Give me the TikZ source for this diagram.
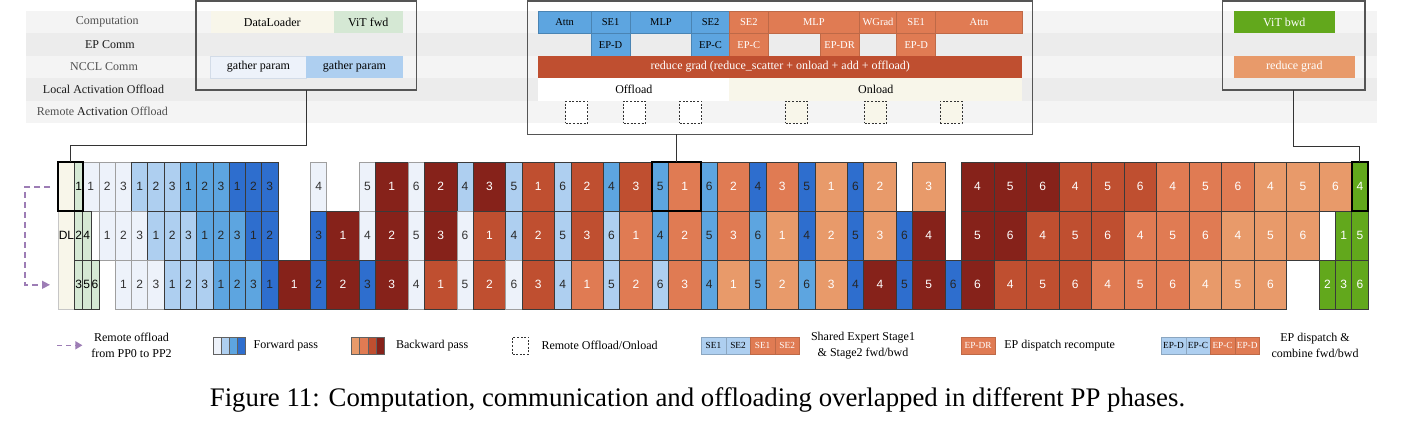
\documentclass[tikz,border=0pt]{standalone}
\usepackage{fontspec}
\setmainfont{Liberation Serif}
\setsansfont{Liberation Sans}
\usetikzlibrary{arrows.meta,calc}
\definecolor{fA}{HTML}{EDF2FA}
\definecolor{fB}{HTML}{AECFF0}
\definecolor{fC}{HTML}{5DA5E0}
\definecolor{fD}{HTML}{2E6ECE}
\definecolor{bA}{HTML}{86221A}
\definecolor{bB}{HTML}{BF4F30}
\definecolor{bC}{HTML}{E07B53}
\definecolor{bD}{HTML}{E89A6A}
\definecolor{gL}{HTML}{D5E8D4}
\definecolor{gD}{HTML}{62A81C}
\definecolor{beige}{HTML}{F8F6EA}
\definecolor{stripeA}{HTML}{F4F4F4}
\definecolor{stripeB}{HTML}{ECECEC}
\definecolor{purp}{HTML}{9D7DB5}
\definecolor{panelc}{HTML}{555555}
\definecolor{celld}{HTML}{3A3A3A}
\definecolor{gpb}{HTML}{D3DCE8}
\definecolor{lblg}{HTML}{505050}
\definecolor{lbld}{HTML}{1A1A1A}
\newcommand\tb[7]{\node[tbox,#6,minimum width={#4-#2},minimum height={#5-#3}] (#1) at (#2,#3) {#7};}
\begin{document}
\begin{tikzpicture}[x=1pt,y=-1pt,
  cellbox/.style={draw=celld,line width=0.6pt,inner sep=0,outer sep=0,minimum height=49,anchor=north west,font=\sffamily\fontsize{12}{12}\selectfont},
  f1/.style={fill=fA,draw=gray!75,text=black!80},
  f2/.style={fill=fB,text=black!85},
  f3/.style={fill=fC,text=black!85},
  f4/.style={fill=fD,text=black!85},
  b1/.style={fill=bA,text=white},
  b2/.style={fill=bB,text=white},
  b3/.style={fill=bC,text=white},
  b4/.style={fill=bD,text=white},
  gl/.style={fill=gL,text=black},
  gd/.style={fill=gD,text=white},
  thickbox/.style={draw=black,line width=2pt,anchor=north west,inner sep=0,outer sep=0,minimum height=49},
  tbox/.style={anchor=north west,inner sep=0,outer sep=0,font=\fontsize{12}{12}\selectfont},
  mblue/.style={fill=fC,draw=fC!80!black,line width=0.5pt,text=black,font=\fontsize{10.5}{10.5}\selectfont},
  morg/.style={fill=bC,draw=bC!85!black,line width=0.5pt,text=white,font=\fontsize{10.5}{10.5}\selectfont},
  panel/.style={draw=panelc,line width=1.3pt,anchor=north west,inner sep=0,outer sep=0},
  dsq/.style={draw=black!80,dash pattern=on 2pt off 1.6pt,line width=0.7pt,minimum size=22,inner sep=0},
  rowlbl/.style={font=\fontsize{12}{12}\selectfont},
  conn/.style={draw=black!80,line width=0.9pt},
  lsw/.style={anchor=north west,minimum width=8.15,minimum height=17.5,inner sep=0,draw=celld!80,line width=0.4pt},
  lse/.style={anchor=north west,minimum width=24.6,minimum height=17.5,inner sep=0,line width=0.4pt,font=\fontsize{9.3}{9.3}\selectfont},
  ltxt/.style={font=\fontsize{12}{15.5}\selectfont,inner sep=0}
]
\useasboundingbox (0,0) rectangle (1425,440);
% stripes
\fill[stripeA] (26,11) rectangle (1376.7,33.4);
\fill[stripeB] (26,33.4) rectangle (1376.7,55.8);
\fill[stripeA] (26,55.8) rectangle (1376.7,78.2);
\fill[stripeB] (26,78.2) rectangle (1376.7,100.6);
\fill[stripeA] (26,100.6) rectangle (1376.7,123);
% row labels
\node[rowlbl,text=lblg] (l1) at (107.3,22.2) {Computation};
\node[rowlbl,text=lbld] (l2) at (109.9,44.6) {EP Comm};
\node[rowlbl,text=lblg] (l3) at (104,67) {NCCL Comm};
\node[rowlbl,text=lbld] (l4) at (103.5,89.4) {Local Activation Offload};
\node[rowlbl,text=lbld] (l5) at (102.4,111.8) {{\color{lblg}Remote} Activation {\color{lblg}Offload}};
% left panel
\tb{dlA}{210.6}{11}{334}{33.4}{fill=beige}{DataLoader}
\tb{vitf}{334}{11}{402.6}{33.4}{fill=gL}{ViT fwd}
\tb{gpA}{210.6}{55.8}{306.3}{78.2}{fill=fA,draw=gpb,line width=0.6pt}{gather param}
\tb{gpB}{306.3}{55.8}{402.6}{78.2}{fill=fB}{gather param}
% middle panel
\tb{mA1}{538.3}{11}{591}{33.4}{mblue}{Attn}
\tb{mA2}{591}{11}{630.3}{33.4}{mblue}{SE1}
\tb{mA3}{630.3}{11}{691.7}{33.4}{mblue}{MLP}
\tb{mA4}{691.7}{11}{729.3}{33.4}{mblue}{SE2}
\tb{mA5}{729.3}{11}{768.3}{33.4}{morg}{SE2}
\tb{mA6}{768.3}{11}{859.3}{33.4}{morg}{MLP}
\tb{mA7}{859.3}{11}{896.7}{33.4}{morg}{WGrad}
\tb{mA8}{896.7}{11}{935.7}{33.4}{morg}{SE1}
\tb{mA9}{935.7}{11}{1022.3}{33.4}{morg}{Attn}
\tb{mB1}{591}{33.4}{630.3}{55.8}{mblue}{EP-D}
\tb{mB2}{691.7}{33.4}{729.3}{55.8}{mblue}{EP-C}
\tb{mB3}{729.3}{33.4}{768.3}{55.8}{morg}{EP-C}
\tb{mB4}{820}{33.4}{859.3}{55.8}{morg}{EP-DR}
\tb{mB5}{896.7}{33.4}{935.7}{55.8}{morg}{EP-D}
\tb{mC}{538.3}{55.8}{1022.3}{78.2}{fill=bB,text=white}{reduce grad (reduce\_scatter + onload + add + offload)}
\tb{mD1}{538.3}{78.2}{729.3}{100.6}{fill=white}{Offload}
\tb{mD2}{729.3}{78.2}{1022.3}{100.6}{fill=beige}{Onload}
\node[dsq,fill=white] (ds1) at (576.7,112.3) {};
\node[dsq,fill=white] (ds2) at (634.5,112.3) {};
\node[dsq,fill=white] (ds3) at (690.7,112.3) {};
\node[dsq,fill=beige] (ds4) at (796.5,112.3) {};
\node[dsq,fill=beige] (ds5) at (875.5,112.3) {};
\node[dsq,fill=beige] (ds6) at (951,112.3) {};
% right panel
\tb{vitb}{1234}{11}{1334.7}{33.4}{fill=gD,text=white}{ViT bwd}
\tb{rgr}{1234}{55.8}{1354.7}{78.2}{fill=bD,text=white}{reduce grad}
% panels
\node[panel,minimum width=220.8,minimum height=89] (lpanel) at (196,1) {};
\node[panel,minimum width=505,minimum height=133.3] (mpanel) at (527.3,1) {};
\node[panel,minimum width=142.7,minimum height=89] (rpanel) at (1222.3,1) {};
% pipeline
\node[cellbox,fill=beige,draw=gray!45,minimum width=16.27,minimum height=147,text=black] (dl) at (58.3,162.3) {DL};
\foreach \xc/\xw/\xs/\xl [count=\i] in {-0.5/0.5/gl/1, 0/1/f1/1, 1/1/f1/2, 2/1/f1/3, 3/1/f2/1, 4/1/f2/2, 5/1/f2/3, 6/1/f3/1, 7/1/f3/2, 8/1/f3/3, 9/1/f4/1, 10/1/f4/2, 11/1/f4/3, 14/1/f1/4, 17/1/f1/5, 18/2/b1/1, 20/1/f1/6, 21/2/b1/2, 23/1/f2/4, 24/2/b1/3, 26/1/f2/5, 27/2/b2/1, 29/1/f2/6, 30/2/b2/2, 32/1/f3/4, 33/2/b2/3, 35/1/f3/5, 36/2/b3/1, 38/1/f3/6, 39/2/b3/2, 41/1/f4/4, 42/2/b3/3, 44/1/f4/5, 45/2/b4/1, 47/1/f4/6, 48/2/b4/2, 51/2/b4/3, 54/2/b1/4, 56/2/b1/5, 58/2/b1/6, 60/2/b2/4, 62/2/b2/5, 64/2/b2/6, 66/2/b3/4, 68/2/b3/5, 70/2/b3/6, 72/2/b4/4, 74/2/b4/5, 76/2/b4/6, 78/1/gd/4}
  {\node[cellbox,\xs,minimum width={\xw*16.27}] (ra\i) at ({82.7+16.27*(\xc)},162.3) {\xl};}
\foreach \xc/\xw/\xs/\xl [count=\i] in {-0.5/0.5/gl/2, 0/0.5/gl/4, 1/1/f1/1, 2/1/f1/2, 3/1/f1/3, 4/1/f2/1, 5/1/f2/2, 6/1/f2/3, 7/1/f3/1, 8/1/f3/2, 9/1/f3/3, 10/1/f4/1, 11/1/f4/2, 14/1/f4/3, 15/2/b1/1, 17/1/f1/4, 18/2/b1/2, 20/1/f1/5, 21/2/b1/3, 23/1/f1/6, 24/2/b2/1, 26/1/f2/4, 27/2/b2/2, 29/1/f2/5, 30/2/b2/3, 32/1/f2/6, 33/2/b3/1, 35/1/f3/4, 36/2/b3/2, 38/1/f3/5, 39/2/b3/3, 41/1/f3/6, 42/2/b4/1, 44/1/f4/4, 45/2/b4/2, 47/1/f4/5, 48/2/b4/3, 50/1/f4/6, 51/2/b1/4, 54/2/b1/5, 56/2/b1/6, 58/2/b2/4, 60/2/b2/5, 62/2/b2/6, 64/2/b3/4, 66/2/b3/5, 68/2/b3/6, 70/2/b4/4, 72/2/b4/5, 74/2/b4/6, 77/1/gd/1, 78/1/gd/5}
  {\node[cellbox,\xs,minimum width={\xw*16.27}] (rb\i) at ({82.7+16.27*(\xc)},211.3) {\xl};}
\foreach \xc/\xw/\xs/\xl [count=\i] in {-0.5/0.5/gl/3, 0/0.5/gl/5, 0.5/0.5/gl/6, 2/1/f1/1, 3/1/f1/2, 4/1/f1/3, 5/1/f2/1, 6/1/f2/2, 7/1/f2/3, 8/1/f3/1, 9/1/f3/2, 10/1/f3/3, 11/1/f4/1, 12/2/b1/1, 14/1/f4/2, 15/2/b1/2, 17/1/f4/3, 18/2/b1/3, 20/1/f1/4, 21/2/b2/1, 23/1/f1/5, 24/2/b2/2, 26/1/f1/6, 27/2/b2/3, 29/1/f2/4, 30/2/b3/1, 32/1/f2/5, 33/2/b3/2, 35/1/f2/6, 36/2/b3/3, 38/1/f3/4, 39/2/b4/1, 41/1/f3/5, 42/2/b4/2, 44/1/f3/6, 45/2/b4/3, 47/1/f4/4, 48/2/b1/4, 50/1/f4/5, 51/2/b1/5, 53/1/f4/6, 54/2/b1/6, 56/2/b2/4, 58/2/b2/5, 60/2/b2/6, 62/2/b3/4, 64/2/b3/5, 66/2/b3/6, 68/2/b4/4, 70/2/b4/5, 72/2/b4/6, 76/1/gd/2, 77/1/gd/3, 78/1/gd/6}
  {\node[cellbox,\xs,minimum width={\xw*16.27}] (rc\i) at ({82.7+16.27*(\xc)},260.3) {\xl};}
% highlighted boxes
\node[thickbox,minimum width=24.4] (lbox) at (58.3,162.3) {};
\node[thickbox,minimum width=48.81] (mbox) at (652.15,162.3) {};
\node[thickbox,minimum width=16.27] (rbox) at (1351.76,162.3) {};
% connectors
\draw[conn] (lpanel.south) -- ++(0,55.7) -| (lbox.north);
\draw[conn] (mpanel.south -| mbox.north) -- (mbox.north);
\draw[conn] (rpanel.south) -- ++(0,56) -| (rbox.north);
% remote offload arrow
\coordinate (ra) at (50,186.8);
\coordinate (rb) at (50,284.8);
\draw[purp,line width=1.4pt,dash pattern=on 6pt off 4pt,-{Triangle[length=8pt,width=8pt]}] (ra) -- (25,186.8) |- (rb);
% legend
\coordinate (lga) at (57,345.3);
\coordinate (lgb) at (82.4,345.3);
\draw[purp,line width=1.4pt,dash pattern=on 5pt off 4pt,-{Triangle[length=7pt,width=8pt]}] (lga) -- (lgb);
\node[ltxt,align=center] (lt1) at (131.5,345.5) {Remote offload\\from PP0 to PP2};
\node[lsw,fill=fA] (lf1) at (212.8,336.5) {};
\node[lsw,fill=fB] (lf2) at (220.95,336.5) {};
\node[lsw,fill=fC] (lf3) at (229.1,336.5) {};
\node[lsw,fill=fD] (lf4) at (237.25,336.5) {};
\node[ltxt,anchor=west] (lt2) at (253.4,345.3) {Forward pass};
\node[lsw,fill=bD] (lb1) at (351.2,336.5) {};
\node[lsw,fill=bC] (lb2) at (359.35,336.5) {};
\node[lsw,fill=bB] (lb3) at (367.5,336.5) {};
\node[lsw,fill=bA] (lb4) at (375.65,336.5) {};
\node[ltxt,anchor=west] (lt3) at (395.8,345.3) {Backward pass};
\node[dsq,minimum width=16,minimum height=17.5,anchor=north west] (lds) at (512.3,336.5) {};
\node[ltxt,anchor=west] (lt4) at (541.3,345.3) {Remote Offload/Onload};
\node[lse,fill=fB,draw=fB!80!black,text=black] (ls1) at (700.9,336.5) {SE1};
\node[lse,fill=fB,draw=fB!80!black,text=black] (ls2) at (725.5,336.5) {SE2};
\node[lse,fill=bC,draw=bC!85!black,text=white] (ls3) at (750.1,336.5) {SE1};
\node[lse,fill=bC,draw=bC!85!black,text=white] (ls4) at (774.7,336.5) {SE2};
\node[ltxt,align=center] (lt5) at (863,345.5) {Shared Expert Stage1\\\& Stage2 fwd/bwd};
\node[lse,fill=bC,draw=bC!85!black,text=white,minimum width=33.3] (lsr) at (961.2,336.5) {EP-DR};
\node[ltxt,anchor=west] (lt6) at (1004.2,345.3) {EP dispatch recompute};
\node[lse,fill=fB,draw=fB!80!black,text=black] (le1) at (1160.9,336.5) {EP-D};
\node[lse,fill=fB,draw=fB!80!black,text=black] (le2) at (1185.5,336.5) {EP-C};
\node[lse,fill=bC,draw=bC!85!black,text=white] (le3) at (1210.1,336.5) {EP-C};
\node[lse,fill=bC,draw=bC!85!black,text=white] (le4) at (1234.7,336.5) {EP-D};
\node[ltxt,align=center] (lt7) at (1315,345.5) {EP dispatch \&\\combine fwd/bwd};
% caption
\node[font=\fontsize{26.8}{30}\selectfont,inner sep=0] (cap) at (697.5,400) {Figure 11: Computation, communication and offloading overlapped in different PP phases.};
\end{tikzpicture}
\end{document}
